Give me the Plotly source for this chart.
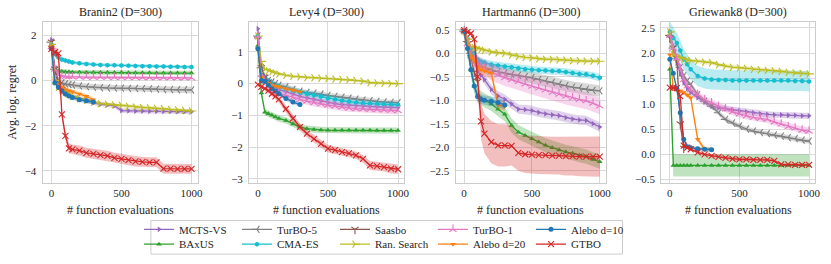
import plotly.graph_objects as go

# ---------------- data ----------------
X = [0, 25, 50, 75, 100, 125, 150, 200, 250, 300, 350, 400, 450, 500,
     550, 600, 650, 700, 750, 800, 850, 900, 950, 1000]

TITLES = ["Branin2 (D=300)", "Levy4 (D=300)", "Hartmann6 (D=300)", "Griewank8 (D=300)"]
Y_TICKS = [[-4, -2, 0, 2], [-3, -2, -1, 0, 1],
           [-2.5, -2.0, -1.5, -1.0, -0.5, 0.0, 0.5],
           [-0.5, 0.0, 0.5, 1.0, 1.5, 2.0, 2.5]]
Y_DECIMALS = [0, 0, 1, 1]
Y_RANGES = [[-4.53, 2.6], [-3.13, 1.95], [-2.76, 0.67], [-0.565, 2.62]]
X_TICKS = [0, 500, 1000]

# ---- Branin2 ----
BR_MCTS = [1.8, -0.1, -0.3, -0.45, -0.55, -0.65, -0.72, -0.82, -0.9, -0.98, -1.05, -1.08, -1.12, -1.33,
           -1.34, -1.35, -1.35, -1.36, -1.36, -1.37, -1.37, -1.38, -1.38, -1.38]
BR_BAXUS = [1.5, 0.5, 0.42, 0.4, 0.38, 0.38, 0.37, 0.37, 0.36, 0.36, 0.35, 0.35, 0.35, 0.35,
            0.34, 0.34, 0.34, 0.34, 0.33, 0.33, 0.33, 0.33, 0.33, 0.33]
BR_TURBO5 = [1.7, 0.5, 0.0, -0.1, -0.15, -0.18, -0.2, -0.24, -0.27, -0.3, -0.32, -0.33, -0.34, -0.34,
             -0.35, -0.35, -0.36, -0.37, -0.38, -0.4, -0.4, -0.41, -0.41, -0.42]
BR_CMAES = [1.6, 1.2, 1.02, 0.93, 0.88, 0.84, 0.8, 0.76, 0.73, 0.71, 0.69, 0.68, 0.67, 0.66,
            0.65, 0.64, 0.63, 0.63, 0.62, 0.62, 0.61, 0.61, 0.6, 0.6]
BR_SAAS = [1.7, 0.5, -0.2, -0.4, -0.5]
BR_RAND = [1.6, 0.0, -0.3, -0.42, -0.5, -0.6, -0.7, -0.8, -0.88, -0.97, -1.02, -1.05, -1.08, -1.1,
           -1.14, -1.18, -1.2, -1.21, -1.23, -1.25, -1.28, -1.3, -1.32, -1.35]
BR_TURBO1 = [1.5, 0.5, 0.25, 0.2, 0.18, 0.17, 0.16, 0.16, 0.15, 0.15, 0.15, 0.15, 0.14, 0.14,
             0.14, 0.14, 0.13, 0.13, 0.13, 0.13, 0.13, 0.12, 0.12, 0.12]
BR_ALEBO20 = [1.5, 0.0, -0.2, -0.3, -0.4, -0.45, -0.5, -0.6, -0.7, -0.85]
BR_ALEBO10 = [1.4, -0.1, -0.3, -0.45, -0.6, -0.68, -0.75, -0.85, -0.9, -0.95]
BR_GTBO = [1.4, 1.25, 1.2, -1.5, -2.45, -3.0, -3.05, -3.1, -3.2, -3.25, -3.3, -3.33, -3.42, -3.47,
           -3.52, -3.58, -3.6, -3.62, -3.62, -3.9, -3.9, -3.91, -3.91, -3.91]

# ---- Levy4 ----
LV_MCTS = [1.73, 0.3, 0.1, 0.0, -0.1, -0.15, -0.2, -0.25, -0.33, -0.4, -0.45, -0.5, -0.55, -0.6,
           -0.63, -0.66, -0.68, -0.7, -0.71, -0.72, -0.73, -0.74, -0.75, -0.76]
LV_BAXUS = [1.2, -0.3, -0.9, -0.95, -1.0, -1.05, -1.1, -1.16, -1.27, -1.37, -1.42, -1.45, -1.46, -1.47,
            -1.47, -1.47, -1.47, -1.47, -1.47, -1.47, -1.48, -1.48, -1.48, -1.48]
LV_TURBO5 = [1.5, 0.5, 0.2, 0.1, 0.05, 0.0, -0.05, -0.1, -0.18, -0.24, -0.28, -0.3, -0.33, -0.37,
             -0.4, -0.43, -0.46, -0.49, -0.52, -0.54, -0.56, -0.58, -0.59, -0.6]
LV_CMAES = [1.5, 0.5, 0.2, 0.08, 0.0, -0.05, -0.1, -0.16, -0.22, -0.27, -0.32, -0.36, -0.41, -0.46,
            -0.5, -0.54, -0.57, -0.6, -0.62, -0.63, -0.64, -0.65, -0.66, -0.67]
LV_SAAS = [1.4, 0.5, 0.2, 0.05, -0.05]
LV_RAND = [1.5, 0.7, 0.45, 0.4, 0.37, 0.33, 0.3, 0.26, 0.23, 0.21, 0.19, 0.18, 0.17, 0.16,
           0.14, 0.13, 0.12, 0.1, 0.08, 0.03, 0.02, 0.01, 0.0, 0.0]
LV_TURBO1 = [1.5, 0.3, 0.05, -0.08, -0.2, -0.25, -0.3, -0.36, -0.44, -0.5, -0.55, -0.6, -0.64, -0.68,
             -0.71, -0.74, -0.77, -0.79, -0.8, -0.81, -0.82, -0.83, -0.84, -0.85]
LV_ALEBO20 = [1.1, 0.2, 0.05, 0.0, -0.05, -0.08, -0.1, -0.16, -0.2, -0.26]
LV_ALEBO10 = [1.1, 0.1, 0.07, -0.05, -0.16, -0.24, -0.32, -0.47, -0.58, -0.66]
LV_GTBO = [-0.03, -0.1, -0.16, -0.22, -0.32, -0.4, -0.5, -0.8, -1.1, -1.37, -1.58, -1.74, -1.9, -2.05,
           -2.1, -2.16, -2.2, -2.26, -2.37, -2.58, -2.6, -2.63, -2.68, -2.7]

# ---- Hartmann6 ----
HM_MCTS = [0.47, 0.3, 0.0, -0.15, -0.38, -0.47, -0.56, -0.77, -0.91, -0.98, -1.08, -1.19, -1.2, -1.22,
           -1.26, -1.29, -1.31, -1.33, -1.37, -1.4, -1.42, -1.43, -1.5, -1.57]
HM_BAXUS = [0.47, 0.2, -0.35, -0.7, -0.91, -0.96, -1.0, -1.08, -1.19, -1.3, -1.54, -1.68, -1.75, -1.82,
            -1.89, -1.96, -2.01, -2.06, -2.1, -2.13, -2.17, -2.2, -2.26, -2.31]
HM_TURBO5 = [0.47, 0.25, 0.0, -0.12, -0.2, -0.26, -0.3, -0.35, -0.39, -0.42, -0.45, -0.47, -0.5, -0.52,
             -0.56, -0.59, -0.62, -0.66, -0.69, -0.72, -0.74, -0.77, -0.79, -0.8]
HM_CMAES = [0.47, 0.3, 0.1, 0.0, -0.14, -0.18, -0.2, -0.24, -0.26, -0.28, -0.3, -0.32, -0.34, -0.35,
            -0.36, -0.37, -0.38, -0.38, -0.4, -0.42, -0.44, -0.45, -0.48, -0.52]
HM_SAAS = [0.47, 0.2, -0.1, -0.4, -0.6]
HM_RAND = [0.47, 0.3, 0.14, 0.12, 0.1, 0.08, 0.06, 0.03, 0.01, 0.0, -0.04, -0.07, -0.09, -0.1,
           -0.12, -0.13, -0.13, -0.14, -0.15, -0.16, -0.16, -0.17, -0.17, -0.17]
HM_TURBO1 = [0.47, 0.2, -0.05, -0.15, -0.22, -0.28, -0.32, -0.4, -0.46, -0.52, -0.56, -0.6, -0.65, -0.7,
             -0.74, -0.78, -0.83, -0.87, -0.91, -0.95, -0.98, -1.01, -1.06, -1.12]
HM_ALEBO20 = [0.47, 0.2, -0.08, -0.15, -0.3, -0.35, -0.38, -0.42, -1.1, -1.13]
HM_ALEBO10 = [0.47, 0.1, -0.35, -0.7, -0.92, -0.98, -1.0, -1.02, -1.05, -1.1]
HM_GTBO = [0.49, 0.45, 0.42, 0.3, -0.5, -1.45, -1.71, -1.89, -1.96, -1.96, -1.97, -2.12, -2.15, -2.16,
           -2.17, -2.17, -2.18, -2.18, -2.19, -2.19, -2.2, -2.2, -2.2, -2.2]

# ---- Griewank8 ----
GW_MCTS = [2.35, 2.0, 1.8, 1.6, 1.41, 1.3, 1.22, 1.12, 1.03, 0.95, 0.92, 0.9, 0.88, 0.86,
           0.84, 0.82, 0.8, 0.79, 0.78, 0.78, 0.77, 0.77, 0.76, 0.76]
GW_BAXUS = [1.68, -0.22, -0.22, -0.22, -0.22, -0.22, -0.22, -0.22, -0.22, -0.22, -0.22, -0.22, -0.22, -0.22,
            -0.22, -0.22, -0.22, -0.22, -0.22, -0.22, -0.22, -0.22, -0.22, -0.22]
GW_TURBO5 = [2.35, 2.1, 1.9, 1.72, 1.55, 1.45, 1.38, 1.18, 1.05, 0.95, 0.82, 0.69, 0.62, 0.56,
             0.5, 0.46, 0.43, 0.41, 0.38, 0.36, 0.33, 0.31, 0.28, 0.26]
GW_CMAES = [2.42, 2.3, 2.2, 2.05, 1.88, 1.78, 1.68, 1.55, 1.5, 1.48, 1.47, 1.47, 1.46, 1.46,
            1.46, 1.46, 1.46, 1.46, 1.46, 1.46, 1.46, 1.45, 1.45, 1.44]
GW_SAAS = [2.3, 2.1, 1.9, 0.6, 0.12]
GW_RAND = [2.42, 1.97, 1.92, 1.9, 1.88, 1.86, 1.85, 1.84, 1.82, 1.81, 1.77, 1.74, 1.72, 1.71,
           1.7, 1.68, 1.67, 1.66, 1.65, 1.64, 1.62, 1.61, 1.6, 1.59]
GW_TURBO1 = [2.35, 2.1, 1.9, 1.7, 1.48, 1.35, 1.28, 1.18, 1.08, 1.02, 0.95, 0.9, 0.84, 0.8,
             0.76, 0.73, 0.71, 0.69, 0.64, 0.6, 0.55, 0.52, 0.48, 0.46]
GW_ALEBO20 = [1.97, 1.3, 1.27, 1.25, 1.22, 1.17, 1.12, 0.3, 0.1, 0.1]
GW_ALEBO10 = [1.88, 1.6, 1.3, 0.82, 0.3, 0.15, 0.13, 0.11, 0.1, 0.09]
GW_GTBO = [1.32, 1.32, 1.31, 1.15, 0.17, 0.13, 0.1, 0.04, 0.0, -0.03, -0.05, -0.07, -0.09, -0.1,
           -0.1, -0.11, -0.11, -0.11, -0.13, -0.2, -0.2, -0.21, -0.21, -0.21]

# standard errors (band half-widths); scalar = constant over the run
BR_SE = {"MCTS-VS": 0.1, "BAxUS": 0.1, "TurBO-5": 0.14, "CMA-ES": 0.08, "Saasbo": [0.5, 0.3, 0.2, 0.2, 0.2],
         "Ran. Search": 0.08, "TurBO-1": 0.07, "Alebo d=20": 0.1, "Alebo d=10": 0.1, "GTBO": 0.22}
LV_SE = {"MCTS-VS": 0.08, "BAxUS": 0.1, "TurBO-5": 0.08, "CMA-ES": 0.1, "Saasbo": 0.1,
         "Ran. Search": 0.05, "TurBO-1": 0.12, "Alebo d=20": 0.06, "Alebo d=10": 0.06}
LV_SE["GTBO"] = [0.05, 0.05, 0.06, 0.07, 0.08, 0.09, 0.1, 0.11, 0.12, 0.12, 0.12, 0.12, 0.12, 0.12,
                 0.12, 0.12, 0.12, 0.12, 0.12, 0.14, 0.14, 0.14, 0.15, 0.15]
HM_SE = {"MCTS-VS": 0.1, "BAxUS": 0.15, "TurBO-5": 0.12, "CMA-ES": 0.08, "Saasbo": 0.1,
         "Ran. Search": 0.05, "TurBO-1": 0.18, "Alebo d=20": 0.1, "Alebo d=10": 0.1}
HM_SE["GTBO"] = [0.02, 0.03, 0.04, 0.1, 0.3, 0.38, 0.42, 0.45, 0.45, 0.45, 0.42, 0.38, 0.4, 0.4,
                 0.4, 0.4, 0.4, 0.4, 0.41, 0.41, 0.42, 0.42, 0.43, 0.43]
GW_SE = {"MCTS-VS": 0.06, "BAxUS": 0.22, "TurBO-5": 0.05, "CMA-ES": 0.2, "Saasbo": 0.1,
         "Ran. Search": 0.04, "TurBO-1": 0.07, "Alebo d=20": 0.05, "Alebo d=10": 0.04, "GTBO": 0.03}

PANELS = [
    {"MCTS-VS": BR_MCTS, "BAxUS": BR_BAXUS, "TurBO-5": BR_TURBO5, "CMA-ES": BR_CMAES, "Saasbo": BR_SAAS,
     "Ran. Search": BR_RAND, "TurBO-1": BR_TURBO1, "Alebo d=20": BR_ALEBO20, "Alebo d=10": BR_ALEBO10, "GTBO": BR_GTBO},
    {"MCTS-VS": LV_MCTS, "BAxUS": LV_BAXUS, "TurBO-5": LV_TURBO5, "CMA-ES": LV_CMAES, "Saasbo": LV_SAAS,
     "Ran. Search": LV_RAND, "TurBO-1": LV_TURBO1, "Alebo d=20": LV_ALEBO20, "Alebo d=10": LV_ALEBO10, "GTBO": LV_GTBO},
    {"MCTS-VS": HM_MCTS, "BAxUS": HM_BAXUS, "TurBO-5": HM_TURBO5, "CMA-ES": HM_CMAES, "Saasbo": HM_SAAS,
     "Ran. Search": HM_RAND, "TurBO-1": HM_TURBO1, "Alebo d=20": HM_ALEBO20, "Alebo d=10": HM_ALEBO10, "GTBO": HM_GTBO},
    {"MCTS-VS": GW_MCTS, "BAxUS": GW_BAXUS, "TurBO-5": GW_TURBO5, "CMA-ES": GW_CMAES, "Saasbo": GW_SAAS,
     "Ran. Search": GW_RAND, "TurBO-1": GW_TURBO1, "Alebo d=20": GW_ALEBO20, "Alebo d=10": GW_ALEBO10, "GTBO": GW_GTBO},
]
SES = [BR_SE, LV_SE, HM_SE, GW_SE]

METHODS = ["MCTS-VS", "BAxUS", "TurBO-5", "CMA-ES", "Saasbo", "Ran. Search",
           "TurBO-1", "Alebo d=20", "Alebo d=10", "GTBO"]
LEGEND_ROW = {"MCTS-VS": "legend", "TurBO-5": "legend", "Saasbo": "legend", "TurBO-1": "legend",
              "Alebo d=10": "legend", "BAxUS": "legend2", "CMA-ES": "legend2", "Ran. Search": "legend2",
              "Alebo d=20": "legend2", "GTBO": "legend2"}

# ---------------- styles ----------------
COLORS = {"MCTS-VS": "#9467bd", "BAxUS": "#2ca02c", "TurBO-5": "#7f7f7f", "CMA-ES": "#17becf",
          "Saasbo": "#8c564b", "Ran. Search": "#bcbd22", "TurBO-1": "#e377c2", "Alebo d=20": "#ff7f0e",
          "Alebo d=10": "#1f77b4", "GTBO": "#d62728"}
SYMBOLS = {"MCTS-VS": "triangle-right", "BAxUS": "triangle-up", "TurBO-5": "y-left", "CMA-ES": "hexagon",
           "Saasbo": "y-down", "Ran. Search": "y-right", "TurBO-1": "y-up", "Alebo d=20": "triangle-down",
           "Alebo d=10": "circle", "GTBO": "x-thin"}
OPEN = {"TurBO-5", "Saasbo", "Ran. Search", "TurBO-1", "GTBO"}

W, H = 831, 264
PLOT_X = [(43, 199), (251, 407), (459, 610), (666, 821)]
PLOT_Y = (22, 185)
FONT = "Liberation Serif, Times New Roman, DejaVu Serif, serif"
TXT = "#262626"


def rgba(hexc, a):
    h = hexc.lstrip("#")
    return "rgba(%d,%d,%d,%s)" % (int(h[0:2], 16), int(h[2:4], 16), int(h[4:6], 16), a)


def fmt(v, d):
    s = ("%." + str(d) + "f") % abs(v)
    return ("\u2212" + s) if v < 0 else s


fig = go.Figure()

for p, (panel, ses) in enumerate(zip(PANELS, SES)):
    xa = "x" if p == 0 else "x%d" % (p + 1)
    ya = "y" if p == 0 else "y%d" % (p + 1)
    for m in METHODS:
        ys = panel[m]
        xs = X[:len(ys)]
        se = ses[m]
        if not isinstance(se, list):
            se = [se] * len(ys)
        up = [v + s for v, s in zip(ys, se)]
        lo = [v - s for v, s in zip(ys, se)]
        fig.add_trace(go.Scatter(
            x=xs + xs[::-1], y=up + lo[::-1], fill="toself", fillcolor=rgba(COLORS[m], 0.3),
            line=dict(width=0), mode="lines", hoverinfo="skip", showlegend=False,
            xaxis=xa, yaxis=ya))
        mk = dict(symbol=SYMBOLS[m], size=6 if m in OPEN else 5, color=COLORS[m],
                  line=dict(width=1.1 if m in OPEN else 0, color=COLORS[m]))
        fig.add_trace(go.Scatter(
            x=xs, y=ys, mode="lines+markers", name=m,
            line=dict(color=COLORS[m], width=1.3), marker=mk,
            showlegend=(p == 0), legend=LEGEND_ROW[m],
            xaxis=xa, yaxis=ya))

axis_common = dict(showgrid=True, gridcolor="#d9d9d9", gridwidth=1, showline=True, mirror=True,
                   linecolor="#cccccc", linewidth=1.2, zeroline=False, ticks="",
                   tickfont=dict(family=FONT, size=11, color=TXT), ticklabeloverflow="allow")
layout = dict(width=W, height=H, margin=dict(l=0, r=0, t=0, b=0),
              paper_bgcolor="white", plot_bgcolor="white",
              font=dict(family=FONT, size=11, color=TXT))
annotations = []
for p in range(4):
    sx = "" if p == 0 else str(p + 1)
    x0, x1 = PLOT_X[p]
    layout["xaxis" + sx] = dict(axis_common, domain=[x0 / W, x1 / W], range=[-62, 1043],
                                tickvals=X_TICKS, ticktext=[str(t) for t in X_TICKS],
                                anchor="y" + sx)
    layout["yaxis" + sx] = dict(axis_common, domain=[1 - PLOT_Y[1] / H, 1 - PLOT_Y[0] / H],
                                range=Y_RANGES[p], tickvals=Y_TICKS[p],
                                ticktext=[fmt(v, Y_DECIMALS[p]) for v in Y_TICKS[p]],
                                anchor="x" + sx, ticklabelstandoff=3)
    annotations.append(dict(text=TITLES[p], x=(x0 + x1) / 2 / W, y=1 - 12 / H, xref="paper", yref="paper",
                            showarrow=False, font=dict(family=FONT, size=12, color=TXT),
                            xanchor="center", yanchor="middle"))
    annotations.append(dict(text="# function evaluations", x=(x0 + x1) / 2 / W, y=1 - 212 / H,
                            xref="paper", yref="paper", showarrow=False,
                            font=dict(family=FONT, size=12, color=TXT), xanchor="center", yanchor="middle"))
annotations.append(dict(text="Avg. log. regret", x=12 / W, y=1 - 103 / H, xref="paper", yref="paper",
                        showarrow=False, textangle=-90, font=dict(family=FONT, size=12, color=TXT),
                        xanchor="center", yanchor="middle"))
layout["annotations"] = annotations

leg = dict(orientation="h", xanchor="left", yanchor="middle", bgcolor="rgba(0,0,0,0)",
           borderwidth=0, font=dict(family=FONT, size=11, color=TXT), entrywidth=53, itemwidth=30,
           tracegroupgap=0)
layout["legend"] = dict(leg, x=140 / W, y=1 - 232 / H)
layout["legend2"] = dict(leg, x=140 / W, y=1 - 247 / H)
layout["shapes"] = [dict(type="rect", xref="paper", yref="paper", x0=152 / W, x1=627 / W,
                         y0=1 - 257 / H, y1=1 - 223 / H, line=dict(color="#cccccc", width=1),
                         fillcolor="rgba(0,0,0,0)")]
fig.update_layout(**layout)
fig.write_html("out.html", config={"displayModeBar": False},
               post_script="document.body.style.margin='0px';")
